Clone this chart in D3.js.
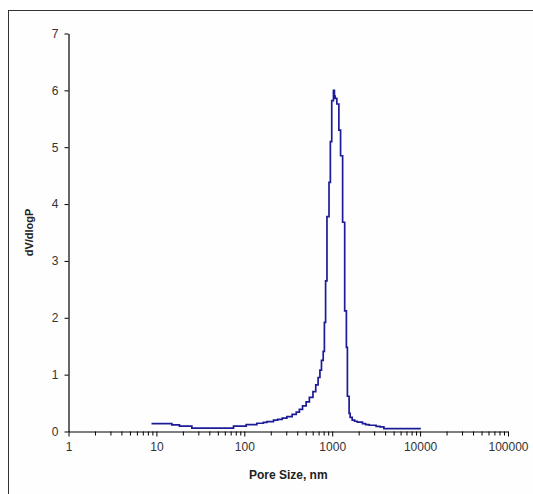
<!DOCTYPE html>
<html>
<head>
<meta charset="utf-8">
<script src="https://cdn.jsdelivr.net/npm/d3@7"></script>
<style>
  body { margin: 0; background: #fff; }
  svg { display: block; }
  .tick text { font-family: "Liberation Sans", Arial, sans-serif; font-size: 12px; fill: #333; }
</style>
</head>
<body>
<div id="chart"></div>
<script>
// Pore size bins (nm, left edge of each step) and dV/dlogP
var poreSize = [8.8, 15, 18.3, 25.3, 75.4, 105, 139, 165, 181, 215, 240, 270, 305, 350,
    390, 423, 460, 505, 550, 604, 650, 691, 725, 755, 790, 815, 841, 872, 920, 953, 988,
    1033, 1060, 1080, 1129, 1191, 1245, 1314, 1387, 1450, 1489, 1557, 1600, 1688, 1800,
    1930, 2207, 2400, 2637, 3155, 3500, 3874, 10200];
var dvdlogp = [0.14, 0.115, 0.095, 0.06, 0.095, 0.12, 0.145, 0.16, 0.175, 0.2, 0.215, 0.235,
    0.26, 0.3, 0.34, 0.39, 0.45, 0.52, 0.6, 0.7, 0.82, 0.95, 1.08, 1.25, 1.41, 1.92, 2.65,
    3.78, 4.38, 5.1, 5.82, 6.0, 5.9, 5.86, 5.76, 5.3, 4.85, 3.68, 2.12, 1.48, 0.62, 0.32,
    0.25, 0.2, 0.18, 0.165, 0.14, 0.12, 0.11, 0.09, 0.08, 0.05, 0.05];

var xTicks = [1, 10, 100, 1000, 10000, 100000];
var yTicks = [0, 1, 2, 3, 4, 5, 6, 7];

var width = 533, height = 494;
var margin = { top: 33.5, right: 25, bottom: 62.5, left: 68.5 };

var svg = d3.select("#chart").append("svg")
    .attr("width", width)
    .attr("height", height);

// outer frame
svg.append("rect")
    .attr("x", 8.5).attr("y", 10.5)
    .attr("width", 540).attr("height", 500)
    .attr("fill", "#fefefe")
    .attr("stroke", "#333")
    .attr("stroke-width", 1);

var x = d3.scaleLog()
    .domain([1, 100000])
    .range([margin.left, width - margin.right]);

var y = d3.scaleLinear()
    .domain([0, 7])
    .range([height - margin.bottom, margin.top]);

// minor ticks 2..9 per decade
var minor = [];
xTicks.slice(0, -1).forEach(function (d) {
    for (var k = 2; k <= 9; k++) minor.push(d * k);
});

svg.append("g")
    .attr("transform", "translate(0," + y(0) + ")")
    .call(d3.axisBottom(x).tickValues(minor).tickSize(4).tickFormat(""))
    .call(function (g) { g.select(".domain").remove(); })
    .selectAll("line").attr("stroke", "#000");

var xAxis = svg.append("g")
    .attr("transform", "translate(0," + y(0) + ")")
    .call(d3.axisBottom(x).tickValues(xTicks).tickSize(5).tickSizeOuter(0)
        .tickPadding(6).tickFormat(d3.format("d")));
xAxis.select(".domain").attr("stroke", "#000").attr("stroke-width", 1.2);
xAxis.selectAll("line").attr("stroke", "#000");

var yAxis = svg.append("g")
    .attr("transform", "translate(" + x(1) + ",0)")
    .call(d3.axisLeft(y).tickValues(yTicks).tickSize(4).tickSizeOuter(0)
        .tickPadding(6).tickFormat(d3.format("d")));
yAxis.select(".domain").attr("stroke", "#000").attr("stroke-width", 1.2);
yAxis.selectAll("line").attr("stroke", "#000");

// axis titles
svg.append("text")
    .attr("x", (x(1) + x(100000)) / 2)
    .attr("y", 479)
    .attr("text-anchor", "middle")
    .style("font-family", "Liberation Sans, Arial, sans-serif")
    .style("font-size", "12px")
    .style("font-weight", "bold")
    .style("fill", "#222")
    .text("Pore Size, nm");

svg.append("text")
    .attr("transform", "translate(33," + (y(0) + y(7)) / 2 + ") rotate(-90)")
    .attr("text-anchor", "middle")
    .style("font-family", "Liberation Sans, Arial, sans-serif")
    .style("font-size", "11px")
    .style("font-weight", "bold")
    .style("fill", "#222")
    .text("dV/dlogP");

// step curve
var pts = poreSize.map(function (d, i) { return [d, dvdlogp[i]]; });
var line = d3.line()
    .x(function (d) { return x(d[0]); })
    .y(function (d) { return y(d[1]); })
    .curve(d3.curveStepAfter);

svg.append("path")
    .datum(pts)
    .attr("fill", "none")
    .attr("stroke", "#1c1c96")
    .attr("stroke-width", 1.7)
    .attr("d", line);
</script>
</body>
</html>
